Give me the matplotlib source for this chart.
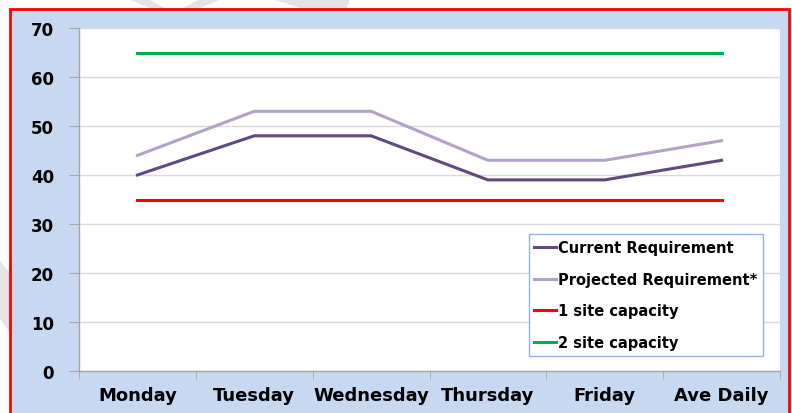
import matplotlib
matplotlib.use("Agg")
import matplotlib.pyplot as plt
from matplotlib.patches import Rectangle, Polygon
import numpy as np

categories = ["Monday", "Tuesday", "Wednesday", "Thursday", "Friday", "Ave Daily"]
current = [40, 48, 48, 39, 39, 43]
projected = [44, 53, 53, 43, 43, 47]
one_site = [35, 35, 35, 35, 35, 35]
two_site = [65, 65, 65, 65, 65, 65]
yticks = [0, 10, 20, 30, 40, 50, 60, 70]

plt.rcParams['font.family'] = ['DejaVu Sans']

W, H = 792, 414
fig = plt.figure(figsize=(W / 100, H / 100), dpi=100)
fig.patch.set_facecolor("white")

def fpoly(pts, **kw):
    p = Polygon([(x / W, 1 - y / H) for x, y in pts], closed=True,
                transform=fig.transFigure, **kw)
    fig.patches.append(p)

# faint watermark fragments in the white margin
for pts in [[(128, 0), (148, 0), (165, 9), (150, 9)],
            [(183, 9), (200, 9), (222, 0), (200, 0)],
            [(272, 0), (350, 0), (347, 9), (300, 9)],
            [(0, 262), (11, 275), (11, 335), (0, 320)]]:
    fpoly(pts, facecolor="#e3e3e3", edgecolor="none", zorder=-20)

# blue background inside red frame
bg = Rectangle((11 / W, -0.05), (788 - 11) / W, (H - 10) / H + 0.05 - 1 / H,
               transform=fig.transFigure, facecolor="#c6d9f1", edgecolor="none", zorder=-10)
fig.patches.append(bg)
frame = Rectangle((10 / W, -0.05), (789 - 10) / W, (H - 10) / H + 0.05,
                  transform=fig.transFigure, facecolor="none", edgecolor="#ff0000",
                  linewidth=2, zorder=10)
fig.patches.append(frame)

ax = fig.add_axes([79 / W, 1 - 372 / H, (780 - 79) / W, (372 - 29) / H])
ax.set_facecolor("white")
x = np.arange(len(categories))

ax.plot(x, current, color="#604a7b", lw=2.2, label="Current Requirement", zorder=3)
ax.plot(x, projected, color="#b3a2c7", lw=2.2, label="Projected Requirement*", zorder=3)
ax.plot(x, one_site, color="#ff0000", lw=2.2, label="1 site capacity", zorder=3)
ax.plot(x, two_site, color="#00b050", lw=2.2, label="2 site capacity", zorder=3)

ax.set_xlim(-0.5, len(categories) - 0.5)
ax.set_ylim(0, 70)
ax.set_yticks(yticks)
ax.set_yticklabels([str(v) for v in yticks], fontsize=12, fontweight="bold")
ax.yaxis.grid(True, color="#d9d9d9", lw=1)
ax.set_axisbelow(True)

ax.set_xticks(x)
ax.set_xticklabels(categories, fontsize=13, fontweight="bold")
ax.set_xticks(np.arange(-0.5, len(categories)), minor=True)
ax.tick_params(axis="x", which="major", length=0, pad=11)
ax.tick_params(axis="x", which="minor", length=6, color="#a6a6a6", direction="out")
ax.tick_params(axis="y", length=7, color="#a6a6a6", pad=11)

for s in ["top", "right"]:
    ax.spines[s].set_visible(False)
for s in ["left", "bottom"]:
    ax.spines[s].set_color("#a6a6a6")
    ax.spines[s].set_linewidth(1)

leg = ax.legend(loc="lower right", bbox_to_anchor=((763 - 79) / (780 - 79), (372 - 357) / (372 - 29)),
                frameon=True, fancybox=False, prop={"weight": "bold", "size": 10.5},
                handlelength=1.5, handletextpad=0.1, labelspacing=1.15,
                borderpad=0.4, borderaxespad=0)
leg.get_frame().set_edgecolor("#95b3d7")
leg.get_frame().set_linewidth(1)
leg.get_frame().set_alpha(1)

fig.savefig("out.png", dpi=100)
